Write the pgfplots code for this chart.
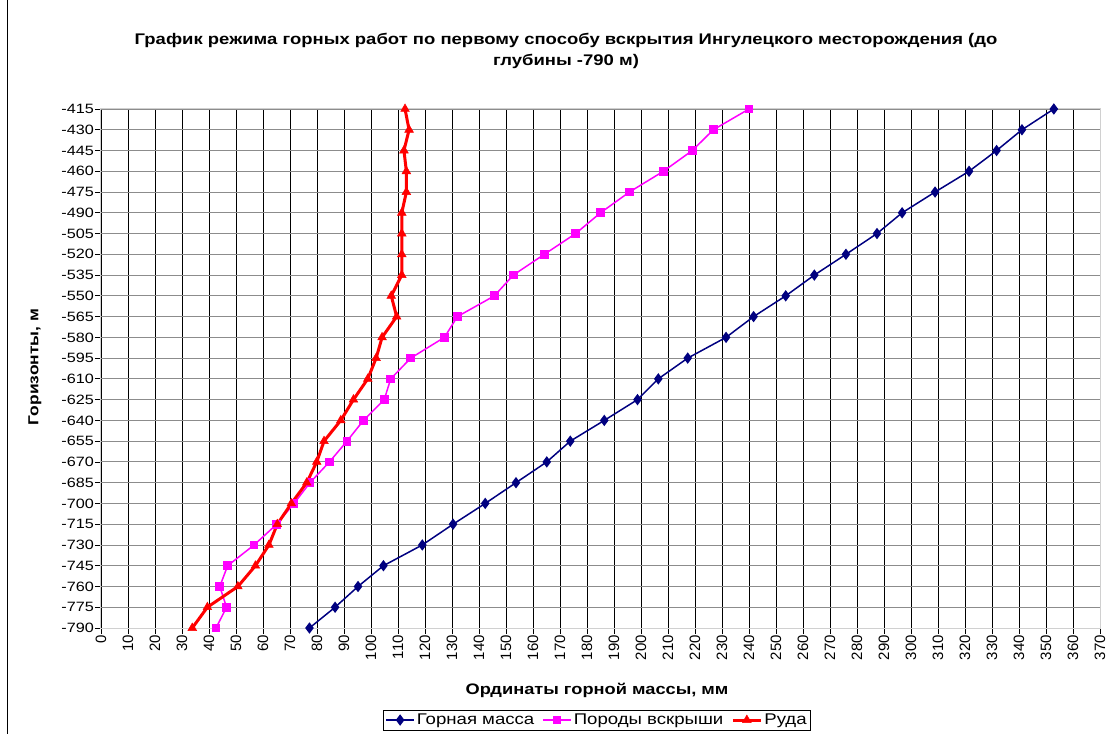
\documentclass[border=0pt]{standalone}
\usepackage{fontspec}
\setmainfont{Liberation Sans}[FakeStretch=1.2]
\newfontfamily\plainsans{Liberation Sans}
\usepackage{pgfplots}
\pgfplotsset{compat=1.18}
\definecolor{navyc}{HTML}{000080}
\definecolor{magc}{HTML}{FF00FF}
\definecolor{redc}{HTML}{FF0000}
\definecolor{gridgray}{HTML}{8C8C8C}
\definecolor{framegray}{HTML}{D0D0D0}
\begin{document}
\begin{tikzpicture}[x=1pt,y=1pt]
\useasboundingbox (-101,-106) rectangle (1012,628);
\begin{axis}[
  at={(0,0)}, anchor=south west,
  scale only axis, width=999pt, height=519pt,
  xmin=0, xmax=370, ymin=-790, ymax=-415,
  /pgf/number format/assume math mode=true,
  xtick={0,10,...,370},
  ytick={-790,-775,...,-415},
  yticklabels={-790,-775,-760,-745,-730,-715,-700,-685,-670,-655,-640,-625,-610,-595,-580,-565,-550,-535,-520,-505,-490,-475,-460,-445,-430,-415},
  xticklabel style={rotate=90, anchor=east, font=\plainsans\fontsize{15}{17}\selectfont, inner sep=1pt, xshift=0pt},
  yticklabel style={font=\fontsize{13.5}{15}\selectfont, inner sep=1pt},
  tick align=outside, xtick pos=bottom, ytick pos=left,
  major tick length=6pt,
  tick style={black, line width=0.8pt},
  xmajorgrids, ymajorgrids,
  x grid style={black, line width=0.9pt},
  y grid style={gridgray, line width=0.9pt},
  axis line style={framegray, line width=1pt},
  clip=false,
  legend columns=3,
  legend style={at={(0.4965,-0.1773)}, anchor=center, draw=black, line width=0.8pt,
    font=\fontsize{15.5}{17}\selectfont, inner sep=2pt,
    /tikz/every even column/.append style={column sep=6pt}},
  legend image code/.code={\draw[mark repeat=2,mark phase=2] plot coordinates {(0pt,0pt) (14pt,0pt) (28pt,0pt)};},
  legend cell align=left,
]
\addplot[navyc, line width=1.5pt, mark=diamond*, mark size=4.5pt, mark options={solid}] coordinates {
(352.9,-415) (341.1,-430) (331.7,-445) (321.5,-460) (308.9,-475) (296.7,-490)
(287.4,-505) (275.9,-520) (264.2,-535) (253.6,-550) (241.7,-565) (231.5,-580)
(217.3,-595) (206.4,-610) (198.7,-625) (186.4,-640) (173.8,-655) (165.1,-670)
(153.7,-685) (142.3,-700) (130.4,-715) (119.0,-730) (104.6,-745) (95.2,-760)
(86.7,-775) (77.2,-790)};
\addlegendentry{Горная масса}
\addplot[magc, line width=1.5pt, mark=square*, mark size=3.6pt, mark options={solid}] coordinates {
(240.0,-415) (226.8,-430) (219.0,-445) (208.3,-460) (195.7,-475) (185.0,-490)
(175.8,-505) (164.2,-520) (152.7,-535) (145.7,-550) (132.0,-565) (127.2,-580)
(114.7,-595) (107.3,-610) (104.9,-625) (97.2,-640) (91.1,-655) (84.6,-670)
(77.4,-685) (71.5,-700) (65.1,-715) (56.7,-730) (46.9,-745) (44.0,-760)
(46.5,-775) (42.6,-790)};
\addlegendentry{Породы вскрыши}
\addplot[redc, line width=3pt, mark=triangle*, mark size=5pt, mark options={solid, line width=0.5pt}] coordinates {
(112.6,-415) (114.1,-430) (112.2,-445) (113.1,-460) (113.1,-475) (111.4,-490)
(111.4,-505) (111.4,-520) (111.4,-535) (107.5,-550) (109.5,-565) (104.1,-580)
(101.9,-595) (98.8,-610) (93.5,-625) (88.8,-640) (82.6,-655) (79.9,-670)
(76.2,-685) (70.5,-700) (65.3,-715) (62.2,-730) (57.2,-745) (50.7,-760)
(39.4,-775) (33.8,-790)};
\addlegendentry{Руда}
\end{axis}
\node[font=\bfseries\fontsize{15.4}{18}\selectfont] at (465,588) {График режима горных работ по первому способу вскрытия Ингулецкого месторождения (до};
\node[font=\bfseries\fontsize{15.4}{18}\selectfont] at (465,567) {глубины -790 м)};
\node[font=\bfseries\fontsize{15.2}{17}\selectfont] at (496,-62) {Ординаты горной массы, мм};
\node[font=\bfseries\fontsize{14.5}{16}\selectfont, rotate=90] at (-66,261) {Горизонты, м};
\draw[black, line width=1pt] (-93,628) -- (-93,-106);
\end{tikzpicture}
\end{document}
